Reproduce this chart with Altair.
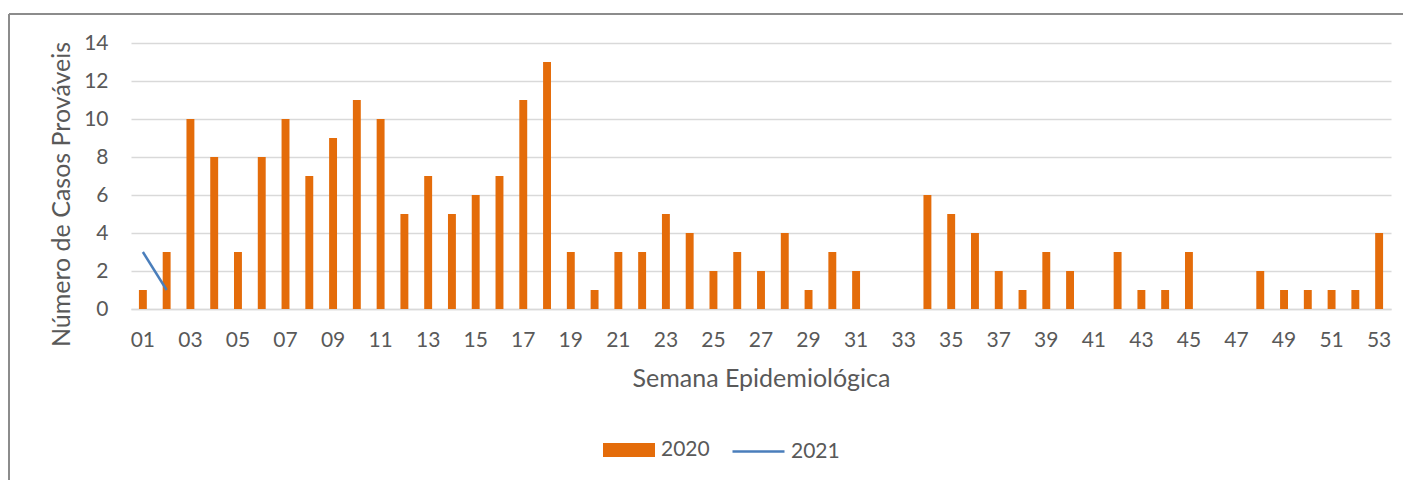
import altair as alt
import pandas as pd

# ---- data ----
semanas = [f"{i:02d}" for i in range(1, 54)]
casos_2020 = [1, 3, 10, 8, 3, 8, 10, 7, 9, 11, 10, 5, 7, 5, 6, 7, 11, 13, 3, 1,
              3, 3, 5, 4, 2, 3, 2, 4, 1, 3, 2, 0, 0, 6, 5, 4, 2, 1, 3, 2,
              0, 3, 1, 1, 3, 0, 0, 2, 1, 1, 1, 1, 4]
semanas_2021 = ["01", "02"]
casos_2021 = [3, 1]
rotulos_x = [f"{i:02d}" for i in range(1, 54, 2)]
ticks_y = [0, 2, 4, 6, 8, 10, 12, 14]

FONT = "Lato"
TXT = "#595959"
GRID = "#D9D9D9"
ORANGE = "#E46C0A"
BLUE = "#4A7EBB"
LBL = 21
TTL = 25

df20 = pd.DataFrame({"semana": semanas, "casos": casos_2020, "serie20": ["2020"] * len(semanas)})
df21 = pd.DataFrame({"semana": semanas_2021, "casos": casos_2021, "serie21": ["2021"] * len(semanas_2021)})

W, H = 1260, 266
PAD = {"left": 123, "top": 35, "right": 12, "bottom": 171}

x_scale = alt.Scale(domain=semanas, paddingInner=0.667, paddingOuter=0.333)
x_axis = alt.Axis(
    values=rotulos_x, labelAngle=0, ticks=False, domainColor=GRID, domainWidth=1.5,
    labelColor=TXT, labelFont=FONT, labelFontSize=LBL, labelPadding=20,
    labelOverlap=False,
    title="Semana Epidemiológica", titleFont=FONT, titleFontSize=TTL,
    titleFontWeight="normal", titleColor=TXT, titlePadding=16,
)
y_scale = alt.Scale(domain=[0, 14], nice=False, zero=True)
y_axis = alt.Axis(
    values=ticks_y, tickCount=8, domain=False, ticks=False, gridColor=GRID, gridWidth=1.5,
    labelColor=TXT, labelFont=FONT, labelFontSize=LBL, labelPadding=23,
    labelOverlap=False, labelFlush=False,
    title="Número de Casos Prováveis", titleFont=FONT, titleFontSize=TTL,
    titleFontWeight="normal", titleColor=TXT, titleX=-70, titleY=151,
    titleAngle=-90, titleAlign="center", titleBaseline="middle",
)

bars = alt.Chart(df20).mark_bar().encode(
    x=alt.X("semana:N", scale=x_scale, sort=None, axis=x_axis),
    y=alt.Y("casos:Q", scale=y_scale, axis=y_axis),
    fill=alt.Fill(
        "serie20:N",
        scale=alt.Scale(domain=["2020"], range=[ORANGE]),
        legend=alt.Legend(
            title=None, orient="none", legendX=472, legendY=381,
            symbolType="M-1,-0.27H1V0.27H-1Z", symbolSize=2704, symbolStrokeWidth=0,
            labelFont=FONT, labelFontSize=LBL, labelColor=TXT, labelOffset=6, padding=0,
        ),
    ),
)

line = alt.Chart(df21).mark_line(strokeWidth=2.5).encode(
    x=alt.X("semana:N", scale=x_scale, sort=None, axis=x_axis),
    y=alt.Y("casos:Q", scale=y_scale, axis=y_axis),
    stroke=alt.Stroke(
        "serie21:N",
        scale=alt.Scale(domain=["2021"], range=[BLUE]),
        legend=alt.Legend(
            title=None, orient="none", legendX=600, legendY=381,
            symbolType="M-1,0H1", symbolSize=2704, symbolStrokeWidth=2.5,
            labelFont=FONT, labelFontSize=LBL, labelColor=TXT, labelOffset=5, padding=0,
        ),
    ),
)

# outer chart frame (decoration, top and left borders)
frame_top = alt.Chart(df21).mark_rule(color="#8C8C8C", strokeWidth=2).encode(
    x=alt.value(-122), x2=alt.value(W + PAD["right"]), y=alt.value(-29)
)
frame_left = alt.Chart(df21).mark_rule(color="#8C8C8C", strokeWidth=2).encode(
    x=alt.value(-122), y=alt.value(-29), y2=alt.value(H + PAD["bottom"])
)

chart = alt.layer(bars, line, frame_top, frame_left).resolve_scale(
    fill="independent", stroke="independent"
).properties(
    width=W, height=H, padding=PAD, autosize=alt.AutoSizeParams(type="none"),
    background="white",
).configure_view(stroke=None)

chart.save("out.html", embed_options={"renderer": "svg", "actions": False})
